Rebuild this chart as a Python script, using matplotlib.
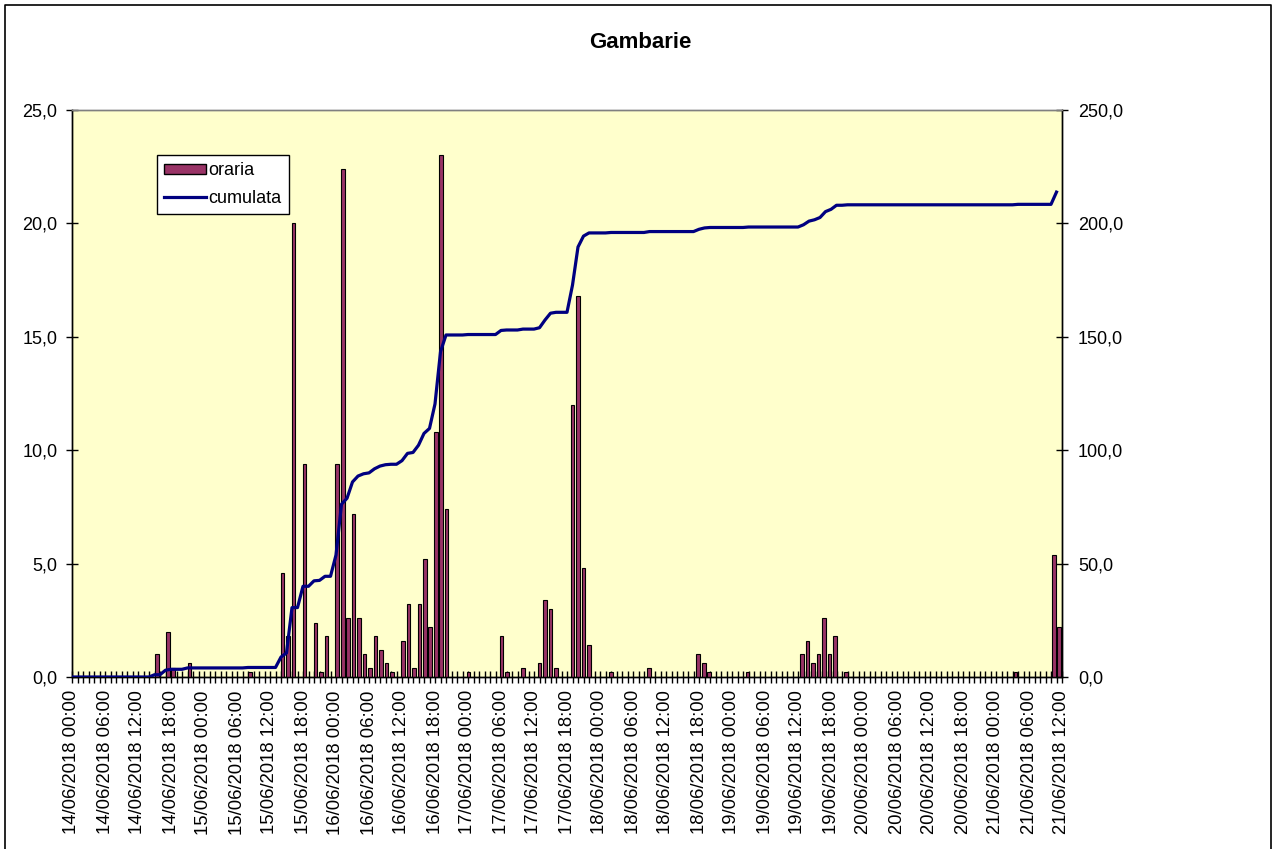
import numpy as np
import pandas as pd
import matplotlib
matplotlib.use("Agg")
import matplotlib.pyplot as plt
from matplotlib.patches import Patch
from matplotlib.lines import Line2D
from matplotlib.ticker import FuncFormatter, FixedLocator

plt.rcParams['font.family'] = ['Liberation Sans', 'DejaVu Sans']

# ---- data (hourly rainfall, mm) 14/06/2018 00:00 .. 21/06/2018 12:00 ----
day_14 = [0, 0, 0, 0, 0, 0, 0, 0, 0, 0, 0, 0, 0, 0, 0, 1.0, 0, 2.0, 0.4, 0, 0, 0.6, 0, 0]
day_15 = [0, 0, 0, 0, 0, 0, 0, 0, 0.2, 0, 0, 0, 0, 0, 4.6, 1.8, 20.0, 0, 9.4, 0, 2.4, 0.2, 1.8, 0]
day_16 = [9.4, 22.4, 2.6, 7.2, 2.6, 1.0, 0.4, 1.8, 1.2, 0.6, 0.2, 0, 1.6, 3.2, 0.4, 3.2, 5.2, 2.2, 10.8, 23.0, 7.4, 0, 0, 0]
day_17 = [0.2, 0, 0, 0, 0, 0, 1.8, 0.2, 0, 0, 0.4, 0, 0, 0.6, 3.4, 3.0, 0.4, 0, 0, 12.0, 16.8, 4.8, 1.4, 0]
day_18 = [0, 0, 0.2, 0, 0, 0, 0, 0, 0, 0.4, 0, 0, 0, 0, 0, 0, 0, 0, 1.0, 0.6, 0.2, 0, 0, 0]
day_19 = [0, 0, 0, 0.2, 0, 0, 0, 0, 0, 0, 0, 0, 0, 1.0, 1.6, 0.6, 1.0, 2.6, 1.0, 1.8, 0, 0.2, 0, 0]
day_20 = [0] * 24
day_21 = [0, 0, 0, 0, 0.2, 0, 0, 0, 0, 0, 0, 5.4, 2.2]

oraria = np.array(day_14 + day_15 + day_16 + day_17 + day_18 + day_19 + day_20 + day_21, dtype=float)
cumulata = np.cumsum(oraria)[:-1]          # the cumulative line stops one hour earlier

times = pd.date_range("2018-06-14 00:00", periods=len(oraria), freq="h")
tick_labels = [t.strftime("%d/%m/%Y %H:%M") for t in times[::6]]

title = "Gambarie"
series_names = ["oraria", "cumulata"]

# ---- figure ----
W, H = 1275, 849
fig = plt.figure(figsize=(W / 100, H / 100), dpi=100)
fig.patch.set_facecolor("white")

L, R, T, B = 72, 1062, 110, 677
ax = fig.add_axes([L / W, 1 - B / H, (R - L) / W, (B - T) / H])
ax.set_facecolor("#FFFFCC")

n = len(oraria)
n_int = n - 1
scale = n_int / n
bar_x = (np.arange(n) + 0.5) * scale
ax.bar(bar_x, oraria, width=0.66 * scale, color="#993366", edgecolor="black",
       linewidth=0.8, zorder=3)
ax.set_xlim(0, n_int)
ax.set_ylim(0, 25)

ax2 = ax.twinx()
ax2.plot(np.arange(len(cumulata)), cumulata, color="#000080", lw=2.3, zorder=4,
         solid_joinstyle="round")
ax2.set_ylim(0, 250)
ax2.set_xlim(0, n_int)

fmt = FuncFormatter(lambda v, p: f"{v:.1f}".replace(".", ","))
ax.yaxis.set_major_locator(FixedLocator(np.arange(0, 25.1, 5)))
ax2.yaxis.set_major_locator(FixedLocator(np.arange(0, 250.1, 50)))
ax.yaxis.set_major_formatter(fmt)
ax2.yaxis.set_major_formatter(fmt)

ax.set_xticks(np.arange(0, n, 6))
ax.set_xticklabels(tick_labels, rotation=90, fontsize=13.3)
ax.set_xticks(np.arange(0, n, 1), minor=True)

ax.tick_params(axis="x", which="both", direction="inout", length=9, width=1,
               color="black", pad=5)
ax.tick_params(axis="y", direction="inout", length=9, width=1, labelsize=13, pad=6)
ax2.tick_params(axis="y", direction="inout", length=9, width=1, labelsize=13, pad=7)

for a in (ax, ax2):
    for s in ("left", "right", "bottom"):
        a.spines[s].set_color("black")
        a.spines[s].set_linewidth(1.0)
    a.spines["top"].set_color("#808080")
    a.spines["top"].set_linewidth(1.0)

# legend
handles = [Patch(facecolor="#993366", edgecolor="black", linewidth=1.0),
           Line2D([0], [0], color="#000080", lw=2.3)]
leg = ax2.legend(handles, series_names, loc="upper left",
                 bbox_to_anchor=(157 / W, 1 - 155 / H), bbox_transform=fig.transFigure,
                 fontsize=13, frameon=True, fancybox=False, framealpha=1,
                 edgecolor="black", borderaxespad=0, borderpad=0.4,
                 handlelength=2.3, handleheight=0.45, handletextpad=0.15,
                 labelspacing=0.6)
leg.get_frame().set_linewidth(1.0)

fig.text(0.502, 1 - 43 / H, title, ha="center", va="center",
         fontsize=16, fontweight="bold")

# chart-area border
x0, x1, y0 = 5 / W, 1271 / W, 1 - 5 / H
fig.add_artist(Line2D([x0, x0, x1, x1], [0, y0, y0, 0], color="black", lw=1.2,
                      transform=fig.transFigure))

fig.savefig("out.png", dpi=100, facecolor="white")
